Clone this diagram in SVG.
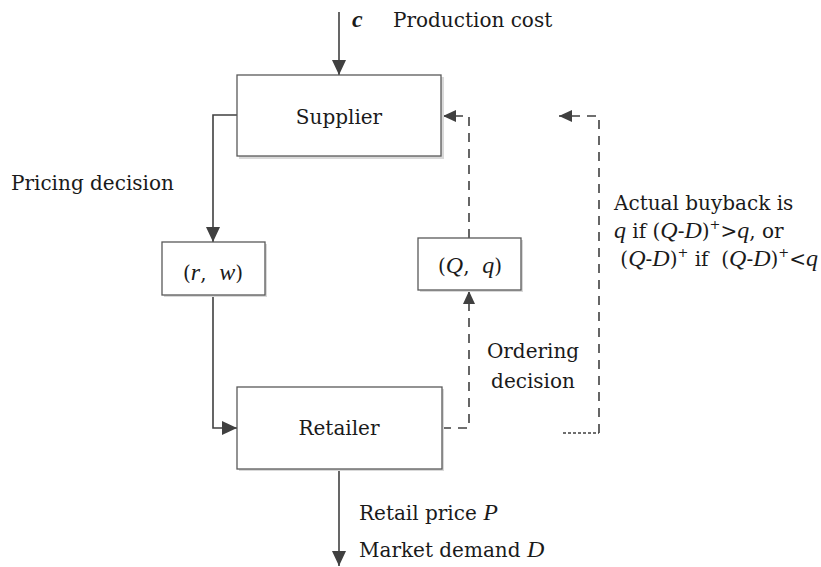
<svg xmlns="http://www.w3.org/2000/svg" width="821" height="567" viewBox="0 0 821 567">
  <style>
    .box { fill: #ffffff; stroke: #595959; stroke-width: 1.3; }
    .shadow { fill: #d9d9d9; }
    text { font-family: "DejaVu Serif", serif; font-size: 20px; fill: #1a1a1a; }
    .it { font-family: "Liberation Serif", serif; font-style: italic; font-size: 24px; }
    .solid { fill: none; stroke: #404040; stroke-width: 1.6; }
    .dash { fill: none; stroke: #404040; stroke-width: 1.6; stroke-dasharray: 9 7; }
    .dot { fill: none; stroke: #404040; stroke-width: 1.4; stroke-dasharray: 3 2; }
  </style>
  <defs>
    <marker id="arr" markerUnits="userSpaceOnUse" markerWidth="16" markerHeight="14" refX="15" refY="7" orient="auto">
      <path d="M0,0 L15,7 L0,14 Z" fill="#404040"/>
    </marker>
    <marker id="arrS" markerUnits="userSpaceOnUse" markerWidth="14" markerHeight="12" refX="13" refY="6" orient="auto">
      <path d="M0,0 L13,6 L0,12 Z" fill="#404040"/>
    </marker>
  </defs>

  <rect width="821" height="567" fill="#ffffff"/>

  <!-- connectors -->
  <g id="connectors">
    <line class="solid" x1="339" y1="12" x2="339" y2="75" marker-end="url(#arr)"/>
    <path class="solid" d="M237,115 H213 V242" marker-end="url(#arr)"/>
    <path class="solid" d="M213,295 V428 H237" marker-end="url(#arr)"/>
    <line class="solid" x1="339" y1="469" x2="339" y2="566" marker-end="url(#arr)"/>
    <path class="dash" d="M442,428 H469 V291" marker-end="url(#arrS)"/>
    <path class="dash" d="M469,238 V116 H443" marker-end="url(#arrS)"/>
    <path class="dot" d="M563,433 H599"/>
    <path class="dash" d="M599,433 V116 H559" marker-end="url(#arrS)"/>
  </g>

  <!-- supplier -->
  <g id="supplier">
    <rect class="shadow" x="239" y="77" width="205" height="82"/>
    <rect class="box" x="237" y="75" width="204" height="81"/>
    <text x="339" y="124" text-anchor="middle">Supplier</text>
  </g>

  <!-- wholesale terms -->
  <g id="rw">
    <rect class="shadow" x="164" y="244" width="103" height="53"/>
    <rect class="box" x="162" y="242" width="103" height="53"/>
    <text x="213" y="280" text-anchor="middle">(<tspan class="it">r</tspan>,&#160;&#160;<tspan class="it">w</tspan>)</text>
  </g>

  <!-- order terms -->
  <g id="Qq">
    <rect class="shadow" x="420" y="240" width="103" height="52"/>
    <rect class="box" x="418" y="238" width="103" height="52"/>
    <text x="470" y="273" text-anchor="middle">(<tspan class="it">Q</tspan>,&#160;&#160;<tspan class="it">q</tspan>)</text>
  </g>

  <!-- retailer -->
  <g id="retailer">
    <rect class="shadow" x="239" y="389" width="205" height="82"/>
    <rect class="box" x="237" y="387" width="205" height="82"/>
    <text x="339" y="435" text-anchor="middle">Retailer</text>
  </g>

  <!-- labels -->
  <g id="labels">
    <text class="it" x="352" y="27" font-weight="bold">c</text>
    <text x="393" y="27">Production cost</text>
    <text x="11" y="190">Pricing decision</text>
    <text x="533" y="358" text-anchor="middle">Ordering</text>
    <text x="533" y="388" text-anchor="middle">decision</text>
    <text x="614" y="210">Actual buyback is</text>
    <text x="614" y="238"><tspan class="it">q</tspan> if (<tspan class="it">Q</tspan>-<tspan class="it">D</tspan>)<tspan dy="-9" font-size="13">+</tspan><tspan dy="9">&gt;</tspan><tspan class="it">q</tspan>, or</text>
    <text x="614" y="266">&#160;(<tspan class="it">Q</tspan>-<tspan class="it">D</tspan>)<tspan dy="-9" font-size="13">+</tspan><tspan dy="9"> if&#160; (</tspan><tspan class="it">Q</tspan>-<tspan class="it">D</tspan>)<tspan dy="-9" font-size="13">+</tspan><tspan dy="9">&lt;</tspan><tspan class="it">q</tspan></text>
    <text x="359" y="520">Retail price <tspan class="it">P</tspan></text>
    <text x="359" y="557">Market demand <tspan class="it">D</tspan></text>
  </g>
</svg>
